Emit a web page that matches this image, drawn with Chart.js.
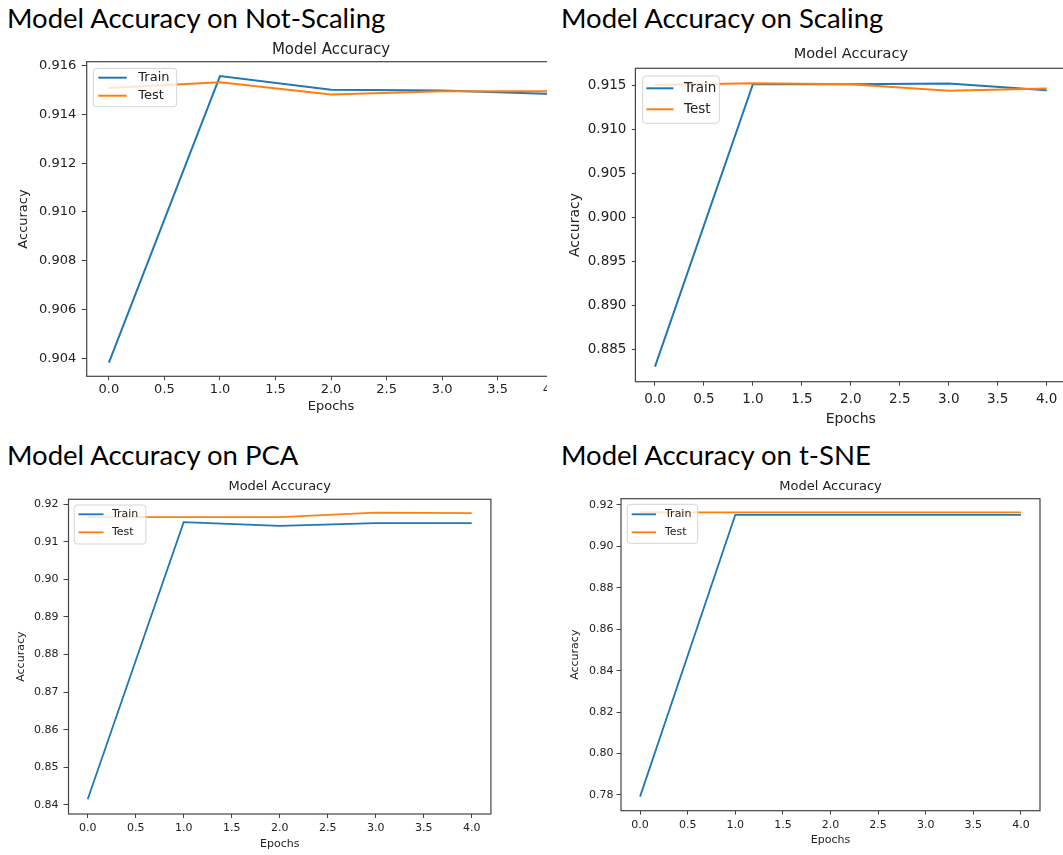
<!DOCTYPE html>
<html>
<head>
<meta charset="utf-8">
<script src="https://cdn.jsdelivr.net/npm/chart.js@4.4.1/dist/chart.umd.min.js"></script>
<style>
html, body { margin:0; padding:0; background:#fff; width:1063px; height:855px; overflow:hidden; position:relative; }
.bigtitle { position:absolute; font-family: Lato, "Open Sans", sans-serif; font-size:27.5px; line-height:27.5px; color:#000; white-space:nowrap; }
.panel { position:absolute; overflow:hidden; }
canvas { display:block; }
</style>
</head>
<body>
<script>
// ---------------- data ----------------
const panelTitles = ['Model Accuracy on Not-Scaling', 'Model Accuracy on Scaling', 'Model Accuracy on PCA', 'Model Accuracy on t-SNE'];
const subtitleText = 'Model Accuracy';
const xAxisTitle = 'Epochs';
const yAxisTitle = 'Accuracy';
const seriesLabels = ['Train', 'Test'];

const epochs = [0, 1, 2, 3, 4];
const xTicks = [0.0, 0.5, 1.0, 1.5, 2.0, 2.5, 3.0, 3.5, 4.0];

const notScalingTrain = [0.90382, 0.91557, 0.91501, 0.91498, 0.91484];
const notScalingTest  = [0.91508, 0.91532, 0.91482, 0.91495, 0.91495];
const notScalingYTicks = [0.904, 0.906, 0.908, 0.910, 0.912, 0.914, 0.916];

const scalingTrain = [0.88302, 0.91519, 0.91519, 0.91526, 0.91451];
const scalingTest  = [0.91511, 0.91531, 0.91519, 0.91443, 0.91469];
const scalingYTicks = [0.885, 0.890, 0.895, 0.900, 0.905, 0.910, 0.915];

const pcaTrain = [0.84152, 0.91521, 0.91423, 0.91494, 0.91494];
const pcaTest  = [0.91654, 0.91654, 0.91654, 0.91777, 0.91761];
const pcaYTicks = [0.84, 0.85, 0.86, 0.87, 0.88, 0.89, 0.90, 0.91, 0.92];

const tsneTrain = [0.77918, 0.91520, 0.91520, 0.91520, 0.91520];
const tsneTest  = [0.91640, 0.91640, 0.91640, 0.91640, 0.91640];
const tsneYTicks = [0.78, 0.80, 0.82, 0.84, 0.86, 0.88, 0.90, 0.92];

// ---------------- styles / layout ----------------
const trainColor = '#1f77b4';
const testColor = '#ff7f0e';
const textColor = '#222';
const lineDark = '#444';
const bigTitleSize = 27.5;

Chart.defaults.font.family = '"DejaVu Sans", sans-serif';
Chart.defaults.color = textColor;

const panels = [
  { title: panelTitles[0], tx: 7, tBase: 28.3, train: notScalingTrain, test: notScalingTest, yTicks: notScalingYTicks, dec: 3,
    L: 86.7, T: 61.7, R: 575.4, B: 376.3, yMin: 0.90326, yMax: 0.91616,
    subY: 50, xTitleY: 406.7, yTitleX: 23.3, clipRight: 546.5,
    tickFont: 13, titleFont: 15, axisFont: 13, legendFont: 13, lineWidth: 2,
    yTickLen: 5, yPad: 5.5, xTickLen: 4, xPad: 2,
    legend: { dx: 6.6, dy: 6.6, w: 83.4, h: 38.4, lx0: 11.6, lx1: 40, rows: [16, 34], tx: 51.6 } },
  { title: panelTitles[1], tx: 561, tBase: 28.3, train: scalingTrain, test: scalingTest, yTicks: scalingYTicks, dec: 3,
    L: 635.4, T: 68.3, R: 1066.25, B: 381.7, yMin: 0.8813, yMax: 0.9170,
    subY: 54.3, xTitleY: 419.3, yTitleX: 575, clipRight: 1063,
    tickFont: 13.5, titleFont: 14.5, axisFont: 14, legendFont: 13.5, lineWidth: 2,
    yTickLen: 3.5, yPad: 5.5, xTickLen: 4, xPad: 6,
    legend: { dx: 7.3, dy: 7.7, w: 76.6, h: 47.3, lx0: 11, lx1: 38, rows: [20, 41], tx: 48.6 } },
  { title: panelTitles[2], tx: 7, tBase: 465, train: pcaTrain, test: pcaTest, yTicks: pcaYTicks, dec: 2,
    L: 68.5, T: 499.3, R: 490.9, B: 814, yMin: 0.8376, yMax: 0.9213,
    subY: 486.7, xTitleY: 844, yTitleX: 21.6, clipRight: 2000,
    tickFont: 11, titleFont: 13, axisFont: 11, legendFont: 11, lineWidth: 1.8,
    yTickLen: 5, yPad: 5, xTickLen: 4, xPad: 3.5,
    legend: { dx: 5.7, dy: 5.7, w: 71.7, h: 39, lx0: 10, lx1: 35, rows: [15, 33], tx: 43.4 } },
  { title: panelTitles[3], tx: 561, tBase: 465, train: tsneTrain, test: tsneTest, yTicks: tsneYTicks, dec: 2,
    L: 621, T: 498.7, R: 1040, B: 810.7, yMin: 0.7724, yMax: 0.9230,
    subY: 486.7, xTitleY: 840, yTitleX: 575, clipRight: 2000,
    tickFont: 11, titleFont: 13, axisFont: 11, legendFont: 11, lineWidth: 1.8,
    yTickLen: 4.5, yPad: 3, xTickLen: 4, xPad: 3.5,
    legend: { dx: 6.3, dy: 5.6, w: 70.4, h: 39, lx0: 10.7, lx1: 35, rows: [15.6, 33.6], tx: 44 } }
];

// frame (all four spines) + matplotlib-like legend inside the axes
const decorPlugin = {
  id: 'mplDecor',
  afterDatasetsDraw(chart, args, o) {
    const { ctx, chartArea: a } = chart;
    ctx.save();
    ctx.strokeStyle = lineDark;
    ctx.lineWidth = 1.2;
    ctx.strokeRect(a.left, a.top, a.right - a.left, a.bottom - a.top);

    const lg = o.legend;
    const x = a.left + lg.dx, y = a.top + lg.dy;
    const r = 3;
    ctx.beginPath();
    ctx.moveTo(x + r, y);
    ctx.lineTo(x + lg.w - r, y); ctx.quadraticCurveTo(x + lg.w, y, x + lg.w, y + r);
    ctx.lineTo(x + lg.w, y + lg.h - r); ctx.quadraticCurveTo(x + lg.w, y + lg.h, x + lg.w - r, y + lg.h);
    ctx.lineTo(x + r, y + lg.h); ctx.quadraticCurveTo(x, y + lg.h, x, y + lg.h - r);
    ctx.lineTo(x, y + r); ctx.quadraticCurveTo(x, y, x + r, y);
    ctx.closePath();
    ctx.fillStyle = 'rgba(255,255,255,0.8)';
    ctx.fill();
    ctx.strokeStyle = '#d4d4d4';
    ctx.lineWidth = 1;
    ctx.stroke();

    ctx.font = o.fontSize + 'px "DejaVu Sans", sans-serif';
    ctx.textBaseline = 'middle';
    ctx.textAlign = 'left';
    chart.data.datasets.forEach((ds, i) => {
      const ry = a.top + lg.rows[i];
      ctx.strokeStyle = ds.borderColor;
      ctx.lineWidth = ds.borderWidth;
      ctx.beginPath();
      ctx.moveTo(a.left + lg.lx0, ry);
      ctx.lineTo(a.left + lg.lx1, ry);
      ctx.stroke();
      ctx.fillStyle = textColor;
      ctx.fillText(ds.label, a.left + lg.tx, ry);
    });
    ctx.restore();
  }
};

function makePanel(p) {
  // big heading (HTML text)
  const h = document.createElement('div');
  h.className = 'bigtitle';
  h.textContent = p.title;
  h.style.left = p.tx + 'px';
  h.style.top = (p.tBase - 0.887 * bigTitleSize) + 'px';
  document.body.appendChild(h);

  const axisLH = p.axisFont * 1.2, titleLH = p.titleFont * 1.2;
  const cx = Math.floor(p.yTitleX - axisLH / 2);
  const cy = Math.floor(p.subY - titleLH / 2);
  const cb = Math.ceil(p.xTitleY + axisLH / 2);
  const cr = Math.ceil(p.R + 14);
  const w = cr - cx, ht = cb - cy;

  const wrap = document.createElement('div');
  wrap.className = 'panel';
  wrap.style.left = cx + 'px';
  wrap.style.top = cy + 'px';
  wrap.style.width = (Math.min(p.clipRight, cr) - cx) + 'px';
  wrap.style.height = ht + 'px';
  const canvas = document.createElement('canvas');
  canvas.width = w; canvas.height = ht;
  canvas.style.width = w + 'px'; canvas.style.height = ht + 'px';
  wrap.appendChild(canvas);
  document.body.appendChild(wrap);

  const yTitlePadTop = (p.yTitleX - axisLH / 2) - cx;
  const xTitlePadBottom = cb - (p.xTitleY + axisLH / 2);
  const titlePadTop = (p.subY - titleLH / 2) - cy;
  const titlePadBottom = (p.T - cy) - titlePadTop - titleLH;

  new Chart(canvas, {
    type: 'line',
    data: {
      datasets: [
        { label: seriesLabels[0], data: epochs.map((e, i) => ({ x: e, y: p.train[i] })),
          borderColor: trainColor, backgroundColor: trainColor, borderWidth: p.lineWidth,
          pointRadius: 0, tension: 0, fill: false, order: 1 },
        { label: seriesLabels[1], data: epochs.map((e, i) => ({ x: e, y: p.test[i] })),
          borderColor: testColor, backgroundColor: testColor, borderWidth: p.lineWidth,
          pointRadius: 0, tension: 0, fill: false, order: 0 }
      ]
    },
    options: {
      responsive: false,
      animation: false,
      devicePixelRatio: 1,
      layout: { padding: { left: 0, top: 0, bottom: 0, right: cr - p.R } },
      plugins: {
        legend: { display: false },
        tooltip: { enabled: false },
        title: { display: true, text: subtitleText, fullSize: false, color: textColor,
                 font: { size: p.titleFont, weight: 'normal' },
                 padding: { top: titlePadTop, bottom: titlePadBottom } },
        mplDecor: { legend: p.legend, fontSize: p.legendFont }
      },
      scales: {
        x: {
          type: 'linear', position: 'bottom', min: -0.2, max: 4.2, bounds: 'data',
          afterBuildTicks: s => { s.ticks = xTicks.map(v => ({ value: v })); },
          afterFit: s => { s.height = cb - p.B; },
          ticks: { autoSkip: false, maxRotation: 0, minRotation: 0, padding: p.xPad, color: textColor,
                   font: { size: p.tickFont }, callback: v => Number(v).toFixed(1) },
          grid: { display: true, drawOnChartArea: false, drawTicks: true, tickLength: p.xTickLen, color: lineDark, lineWidth: 1 },
          border: { display: false },
          title: { display: true, text: xAxisTitle, color: textColor, font: { size: p.axisFont },
                   padding: { top: 0, bottom: xTitlePadBottom } }
        },
        y: {
          type: 'linear', position: 'left', min: p.yMin, max: p.yMax, bounds: 'data',
          afterBuildTicks: s => { s.ticks = p.yTicks.map(v => ({ value: v })); },
          afterFit: s => { s.width = p.L - cx; },
          ticks: { autoSkip: false, padding: p.yPad, color: textColor,
                   font: { size: p.tickFont }, callback: v => Number(v).toFixed(p.dec) },
          grid: { display: true, drawOnChartArea: false, drawTicks: true, tickLength: p.yTickLen, color: lineDark, lineWidth: 1 },
          border: { display: false },
          title: { display: true, text: yAxisTitle, color: textColor, font: { size: p.axisFont },
                   padding: { top: yTitlePadTop, bottom: 0 } }
        }
      }
    },
    plugins: [decorPlugin]
  });
}

panels.forEach(makePanel);
</script>
</body>
</html>
